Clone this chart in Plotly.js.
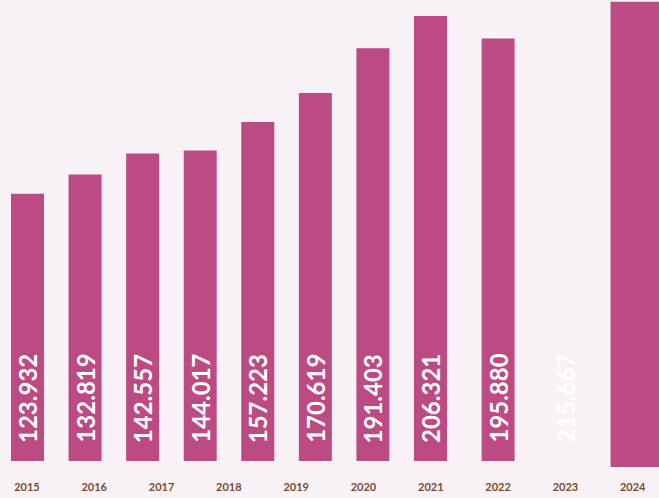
<!DOCTYPE html>
<html>
<head>
<meta charset="utf-8">
<script src="https://cdn.plot.ly/plotly-3.0.1.min.js"></script>
<style>
  html, body { margin: 0; padding: 0; background: #f8f2f6; }
  #chart { width: 659px; height: 498px; }
</style>
</head>
<body>
<div id="chart"></div>
<script>
// Tick labels along the bottom
var years = ['2015', '2016', '2017', '2018', '2019', '2020', '2021', '2022', '2023', '2024'];
// Value labels as printed on the chart (in order)
var values = [123.932, 132.819, 142.557, 144.017, 157.223, 170.619, 191.403, 206.321, 195.880, 215.667];
// First eight bars are packed into their own evenly spaced slots
var packedSlots = ['s1', 's2', 's3', 's4', 's5', 's6', 's7', 's8'];
var packedValues = values.slice(0, 8);
// Remaining marks sit on the year axis
var tailYears = ['2022', '2023'];
var tailValues = values.slice(8, 10);
var tailVisible = [true, false];
var lastYear = ['2024'];
var lastValue = [215.667];
var lastBase = [-2.78];

var BAR = '#bc4b84';
var BG = '#f8f2f6';

function fmt(v) { return v.toFixed(3); }

var traces = [
  {
    type: 'bar', x: packedSlots, y: packedValues, xaxis: 'x2', yaxis: 'y',
    width: 0.573, marker: { color: BAR }, hoverinfo: 'skip'
  },
  {
    type: 'bar', x: tailYears, y: tailValues, xaxis: 'x', yaxis: 'y',
    width: 0.49,
    marker: { color: tailVisible.map(function (v) { return v ? BAR : 'rgba(0,0,0,0)'; }) },
    hoverinfo: 'skip'
  },
  {
    type: 'bar', x: lastYear, y: lastValue, base: lastBase, xaxis: 'x', yaxis: 'y',
    width: 0.8, offset: -0.33, marker: { color: BAR }, hoverinfo: 'skip'
  }
];

var labelFont = { family: 'Lato', size: 24, color: '#ffffff', weight: 'bold' };
var annotations = [];
packedSlots.forEach(function (s, i) {
  annotations.push({
    xref: 'x2', yref: 'y', x: i, y: 0, yanchor: 'bottom', xanchor: 'center',
    yshift: 16, textangle: -90, showarrow: false, text: fmt(packedValues[i]),
    font: labelFont
  });
});
tailYears.forEach(function (yr, i) {
  annotations.push({
    xref: 'x', yref: 'y', x: years.indexOf(yr), y: 0, yanchor: 'bottom', xanchor: 'center',
    yshift: 16, textangle: -90, showarrow: false, text: fmt(tailValues[i]),
    font: labelFont
  });
});

var layout = {
  width: 659, height: 498,
  margin: { l: 0, r: 0, t: 0, b: 30, pad: 0 },
  paper_bgcolor: BG, plot_bgcolor: BG,
  showlegend: false,
  barmode: 'overlay',
  xaxis: {
    type: 'category', categoryorder: 'array', categoryarray: years,
    tickvals: years, ticktext: years,
    range: [-0.4, 9.39], showgrid: false, zeroline: false, showline: false,
    ticks: 'outside', ticklen: 9, tickcolor: 'rgba(0,0,0,0)',
    tickfont: { family: 'Lato', size: 11, color: '#7a4a2c', weight: 'bold' }
  },
  xaxis2: {
    type: 'category', categoryorder: 'array', categoryarray: packedSlots,
    overlaying: 'x', range: [-0.4777, 10.969], visible: false
  },
  yaxis: {
    range: [-3.245, 213.74], visible: false, showgrid: false, zeroline: false
  },
  annotations: annotations
};

Plotly.newPlot('chart', traces, layout, { displayModeBar: false, staticPlot: true });
</script>
</body>
</html>
